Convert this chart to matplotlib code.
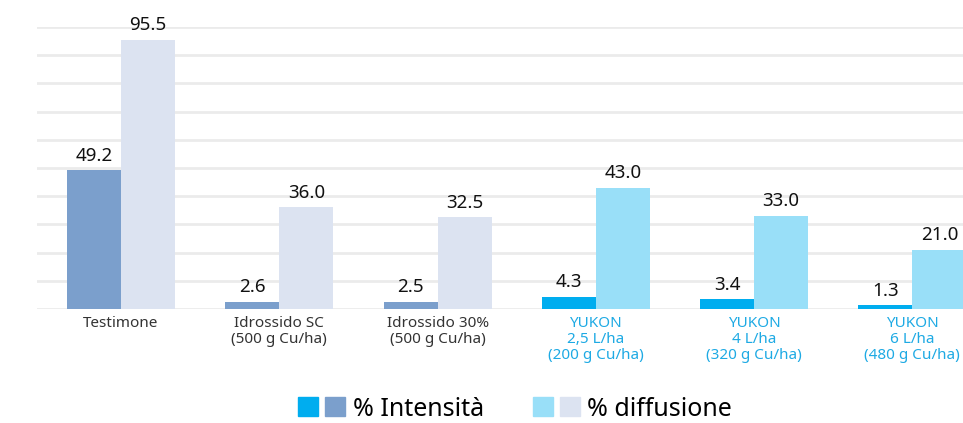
import numpy as np
from matplotlib import pyplot as plt
from matplotlib.legend_handler import HandlerTuple

plt.rcParams['font.family'] = ['Noto Sans', 'DejaVu Sans']

categories = ['Testimone', 'Idrossido SC\n(500 g Cu/ha)', 'Idrossido 30%\n(500 g Cu/ha)',
              'YUKON\n2,5 L/ha\n(200 g Cu/ha)', 'YUKON\n4 L/ha\n(320 g Cu/ha)',
              'YUKON\n6 L/ha\n(480 g Cu/ha)']
intensita = [49.2, 2.6, 2.5, 4.3, 3.4, 1.3]
diffusione = [95.5, 36.0, 32.5, 43.0, 33.0, 21.0]
is_yukon = [False, False, False, True, True, True]

int_cols = ['#00adef' if y else '#7b9fcc' for y in is_yukon]
dif_cols = ['#99dff8' if y else '#dce3f1' for y in is_yukon]
lab_cols = ['#1eaae4' if y else '#333333' for y in is_yukon]

fig = plt.figure(figsize=(9.63, 4.23), dpi=100)
ax = fig.add_axes([37/963, 114/423, 926/963, 282/423])

x = np.arange(len(categories))
w = 0.341
b1 = ax.bar(x - w/2, intensita, w, color=int_cols, zorder=2)
b2 = ax.bar(x + w/2, diffusione, w, color=dif_cols, zorder=2)
ax.bar_label(b1, fmt='%.1f', padding=4, fontsize=13.5, color='#111111', fontweight='medium')
ax.bar_label(b2, fmt='%.1f', padding=4, fontsize=13.5, color='#111111', fontweight='medium')

ax.set_xlim(-0.531, 5.32)
ax.set_ylim(0, 100)
ax.set_yticks(np.arange(0, 101, 10))
ax.yaxis.grid(True, color='#ebebeb', linewidth=2, zorder=0)
ax.set_axisbelow(True)
ax.tick_params(axis='y', left=False, labelleft=False)
ax.tick_params(axis='x', length=0, pad=5)
ax.set_xticks(x)
ax.set_xticklabels(categories, fontsize=11, linespacing=1.1)
for lbl, c in zip(ax.get_xticklabels(), lab_cols):
    lbl.set_color(c)
for s in ax.spines.values():
    s.set_visible(False)

h1 = (plt.Rectangle((0, 0), 1, 1, color='#00adef'), plt.Rectangle((0, 0), 1, 1, color='#7b9fcc'))
h2 = (plt.Rectangle((0, 0), 1, 1, color='#99dff8'), plt.Rectangle((0, 0), 1, 1, color='#dce3f1'))
fig.legend([h1, h2], ['% Intensità', '% diffusione'], ncol=2, frameon=False,
           loc='center', bbox_to_anchor=(0.535, 0.033), fontsize=18,
           handler_map={tuple: HandlerTuple(ndivide=None, pad=0.28)},
           handlelength=1.88, handleheight=0.8, handletextpad=0.3, columnspacing=1.96)

fig.savefig('out.png', dpi=100)
